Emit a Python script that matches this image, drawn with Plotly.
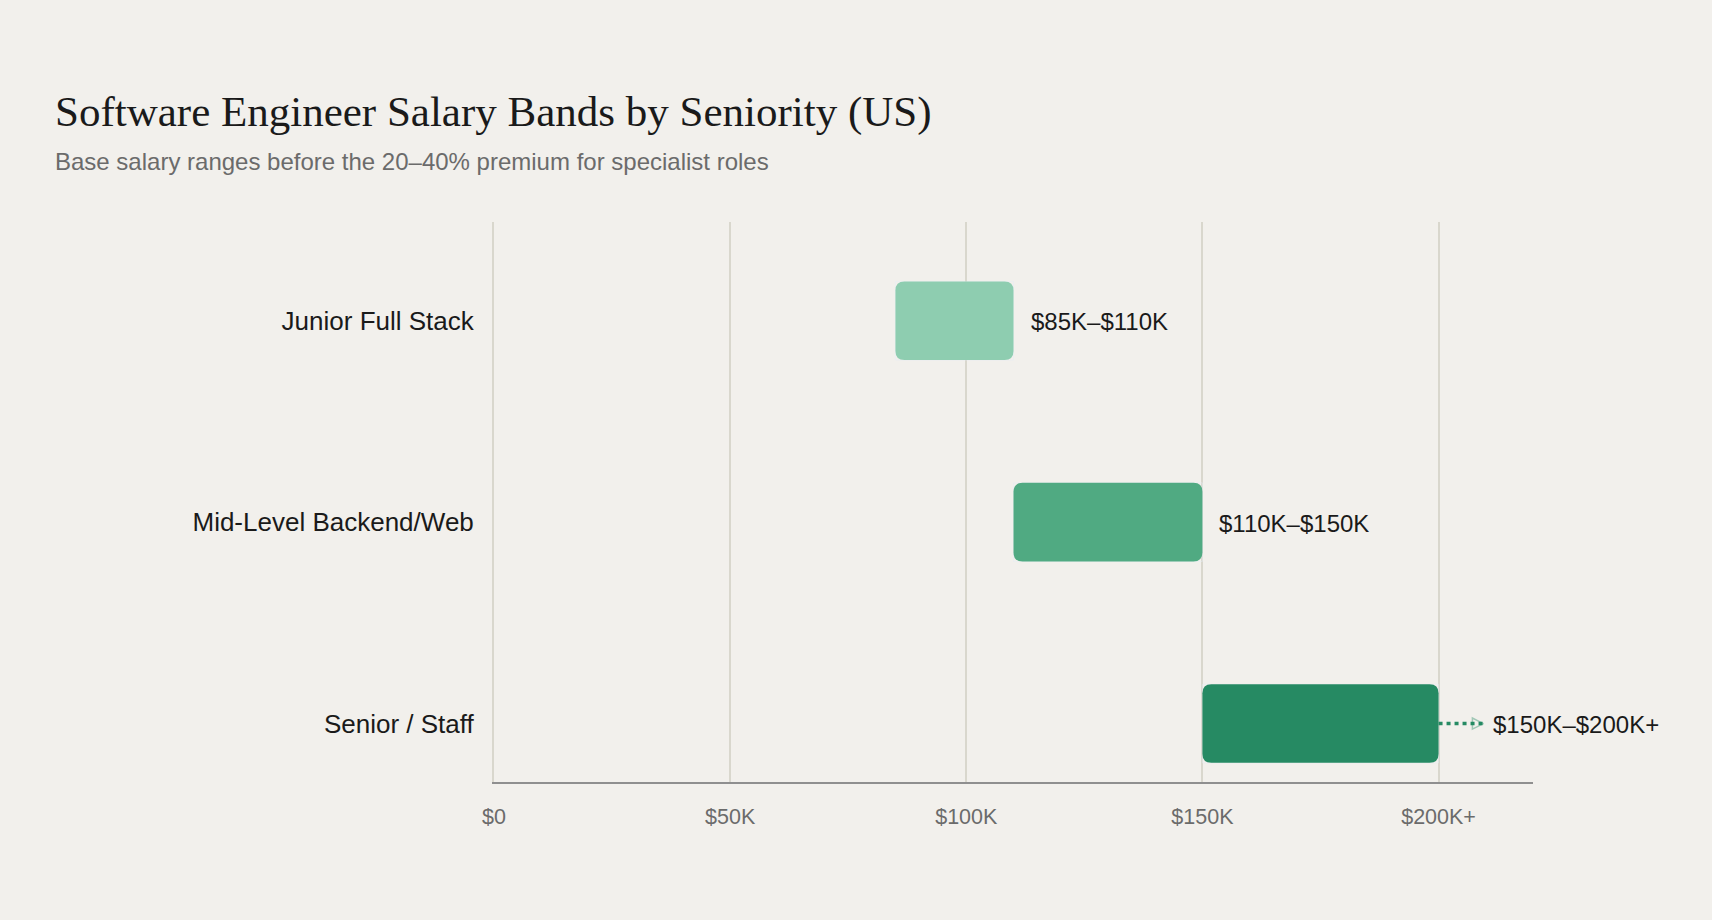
import plotly.graph_objects as go

# ---- data ----
roles = ["Junior Full Stack", "Mid-Level Backend/Web", "Senior / Staff"]
low_k = [85, 110, 150]
high_k = [110, 150, 200]
range_labels = ["$85K–$110K", "$110K–$150K", "$150K–$200K+"]
bar_colors = ["#8ECDB0", "#50AA82", "#268A63"]
extension_end_k = [None, None, 209.5]   # dotted "+" extension for Senior
tick_vals_k = [0, 50, 100, 150, 200]
tick_text = ["$0", "$50K", "$100K", "$150K", "$200K+"]

BG = "#F2F0EC"
GRID = "#D9D7CD"
X_MAX = 220
Y_RANGE = [2.29, -0.49]
PLOT_W = 1040
PLOT_H = 560
BAR_H = 0.39
RADIUS_PX = 9

fig = go.Figure()

# invisible bars (hover / axis set-up)
fig.add_trace(go.Bar(
    y=roles, x=[h - l for l, h in zip(low_k, high_k)], base=low_k,
    orientation="h", marker=dict(color="rgba(0,0,0,0)"), width=BAR_H,
    hovertext=range_labels, hoverinfo="text", showlegend=False,
))

# rounded rectangles drawn as shapes in data coordinates
rx = RADIUS_PX * X_MAX / PLOT_W
ry = RADIUS_PX * (Y_RANGE[0] - Y_RANGE[1]) / PLOT_H
for i, (l, h, c) in enumerate(zip(low_k, high_k, bar_colors)):
    y0, y1 = i - BAR_H / 2, i + BAR_H / 2
    path = (f"M {l+rx},{y0} L {h-rx},{y0} Q {h},{y0} {h},{y0+ry} "
            f"L {h},{y1-ry} Q {h},{y1} {h-rx},{y1} L {l+rx},{y1} "
            f"Q {l},{y1} {l},{y1-ry} L {l},{y0+ry} Q {l},{y0} {l+rx},{y0} Z")
    fig.add_shape(type="path", path=path, xref="x", yref="y",
                  fillcolor=c, line=dict(width=0), layer="above")

# dotted extension for the open-ended band
for i, e in enumerate(extension_end_k):
    if e is None:
        continue
    fig.add_trace(go.Scatter(
        x=[high_k[i], e], y=[roles[i], roles[i]], mode="lines",
        line=dict(color=bar_colors[i], width=3.5, dash="4px,4px"),
        hoverinfo="skip", showlegend=False,
    ))
    fig.add_trace(go.Scatter(
        x=[e], y=[roles[i]], mode="markers",
        marker=dict(symbol="arrow-right-open", size=11, color=bar_colors[i],
                    opacity=0.4, line=dict(width=1.5, color=bar_colors[i])),
        hoverinfo="skip", showlegend=False,
    ))

# value labels
for i, (h, lab) in enumerate(zip(high_k, range_labels)):
    e = extension_end_k[i]
    fig.add_annotation(
        x=e if e is not None else h, y=roles[i], xref="x", yref="y",
        text=lab, showarrow=False, xanchor="left", yanchor="middle",
        xshift=8 if e is not None else 15, yshift=-1,
        font=dict(family="Liberation Sans, Arial, sans-serif", size=24, color="#1a1a1a"),
    )

# title + subtitle
fig.add_annotation(
    text="Software Engineer Salary Bands by Seniority (US)",
    xref="paper", yref="paper", x=(52 - 493.5) / PLOT_W, y=(782 - 112) / PLOT_H,
    xanchor="left", yanchor="middle", showarrow=False,
    font=dict(family="Liberation Serif, Times New Roman, serif", size=43, color="#1a1a1a"),
)
fig.add_annotation(
    text="Base salary ranges before the 20–40% premium for specialist roles",
    xref="paper", yref="paper", x=(52 - 493.5) / PLOT_W, y=(782 - 162) / PLOT_H,
    xanchor="left", yanchor="middle", showarrow=False,
    font=dict(family="Liberation Sans, Arial, sans-serif", size=24, color="#6b6b6b"),
)

fig.update_layout(
    width=1712, height=920,
    paper_bgcolor=BG, plot_bgcolor=BG,
    margin=dict(l=493.5, r=179, t=222, b=138),
    font=dict(family="Liberation Sans, Arial, sans-serif"),
    showlegend=False,
    xaxis=dict(
        range=[0, X_MAX], tickvals=tick_vals_k, ticktext=tick_text,
        showgrid=True, gridcolor=GRID, gridwidth=2, zeroline=False,
        showline=True, linecolor="#8f8f8f", linewidth=2,
        ticks="", ticklabelstandoff=14,
        tickfont=dict(size=21.5, color="#6b6b6b"),
        fixedrange=True,
    ),
    yaxis=dict(
        type="category", categoryorder="array", categoryarray=roles,
        range=Y_RANGE, showgrid=False, zeroline=False,
        showline=True, linecolor=GRID, linewidth=2,
        ticks="", ticklabelstandoff=13,
        tickfont=dict(size=26, color="#1a1a1a"),
        fixedrange=True,
    ),
)

fig.write_html("out.html")
